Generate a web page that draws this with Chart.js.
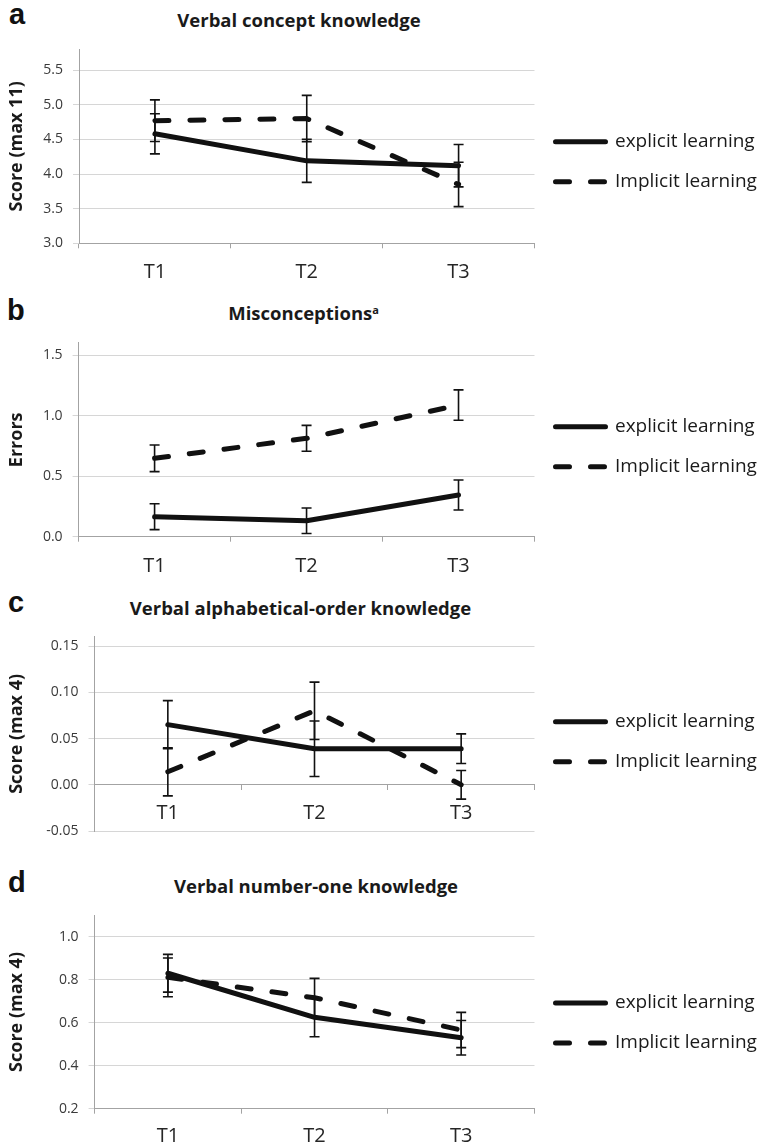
<!DOCTYPE html>
<html>
<head>
<meta charset="utf-8">
<script src="https://cdn.jsdelivr.net/npm/chart.js@4.4.1/dist/chart.umd.min.js"></script>
<style>
  html, body { margin: 0; padding: 0; overflow: hidden; background: #fff; }
  #page { position: relative; width: 763px; height: 1146px; overflow: hidden; }
  canvas { position: absolute; left: 0; }
  .letter { position: absolute; font: bold 29px "Liberation Sans", Arial, sans-serif; line-height: 29px; color: #111; }
  .title { position: absolute; width: 400px; text-align: center; font: bold 18.5px "Open Sans", sans-serif; line-height: 18px; color: #1a1a1a; white-space: nowrap; }
  .title sup { font-size: 11px; line-height: 0; vertical-align: 6px; }
</style>
</head>
<body>
<div id="page">
  <div class="letter" style="left:9px; top:0px">a</div>
  <div class="letter" style="left:7px; top:296px">b</div>
  <div class="letter" style="left:8px; top:588px">c</div>
  <div class="letter" style="left:8px; top:868px">d</div>

  <div class="title" style="left:99px; top:10.5px">Verbal concept knowledge</div>
  <div class="title" style="left:103.6px; top:303.8px">Misconceptions<sup>a</sup></div>
  <div class="title" style="left:100.5px; top:598.8px">Verbal alphabetical-order knowledge</div>
  <div class="title" style="left:116px; top:877px">Verbal number-one knowledge</div>

  <canvas id="chartA"></canvas>
  <canvas id="chartB"></canvas>
  <canvas id="chartC"></canvas>
  <canvas id="chartD"></canvas>
</div>

<script>
// ---- data ----
const timePoints = ['T1', 'T2', 'T3'];
const seriesNames = ['explicit learning', 'Implicit learning'];

// a: Verbal concept knowledge
const conceptExplicit = [4.58, 4.19, 4.12];
const conceptExplicitErr = [0.29, 0.31, 0.305];
const conceptImplicit = [4.77, 4.80, 3.85];
const conceptImplicitErr = [0.30, 0.335, 0.32];
const conceptTicks = [3.0, 3.5, 4.0, 4.5, 5.0, 5.5];

// b: Misconceptions
const miscExplicit = [0.165, 0.132, 0.344];
const miscExplicitErr = [0.107, 0.105, 0.124];
const miscImplicit = [0.647, 0.812, 1.087];
const miscImplicitErr = [0.11, 0.107, 0.125];
const miscTicks = [0.0, 0.5, 1.0, 1.5];

// c: Verbal alphabetical-order knowledge
const alphaExplicit = [0.065, 0.039, 0.039];
const alphaExplicitErr = [0.026, 0.030, 0.016];
const alphaImplicit = [0.014, 0.080, 0.0];
const alphaImplicitErr = [0.026, 0.031, 0.0155];
const alphaTicks = [-0.05, 0.00, 0.05, 0.10, 0.15];

// d: Verbal number-one knowledge
const numberExplicit = [0.830, 0.625, 0.530];
const numberExplicitErr = [0.088, 0.09, 0.08];
const numberImplicit = [0.811, 0.716, 0.566];
const numberImplicitErr = [0.09, 0.09, 0.082];
const numberTicks = [0.2, 0.4, 0.6, 0.8, 1.0];

// ---- look ----
const W = 763;
const PLOT_RIGHT = 534.5;
const AXIS = '#a3a3a3';
const GRID = '#d6d6d6';
const INK = '#111111';
const LEG_FS = 19, LEG_PAD = 21;
const X_AXIS_H = 50;

Chart.defaults.font.family = '"Open Sans", Lato, sans-serif';

// error bars drawn through the y scale
const errorBars = {
  id: 'errorBars',
  afterDatasetsDraw(chart) {
    const ctx = chart.ctx;
    const ys = chart.scales.y;
    chart.data.datasets.forEach((ds, di) => {
      const meta = chart.getDatasetMeta(di);
      ctx.save();
      ctx.strokeStyle = INK;
      ctx.lineWidth = 1.6;
      ctx.setLineDash([]);
      meta.data.forEach((pt, i) => {
        const v = ds.data[i], e = ds.errors[i];
        const top = ys.getPixelForValue(v + e);
        const bot = ys.getPixelForValue(v - e);
        ctx.beginPath();
        ctx.moveTo(pt.x, top); ctx.lineTo(pt.x, bot);
        ctx.moveTo(pt.x - 5, top); ctx.lineTo(pt.x + 5, top);
        ctx.moveTo(pt.x - 5, bot); ctx.lineTo(pt.x + 5, bot);
        ctx.stroke();
      });
      ctx.restore();
    });
  }
};

function lineSet(label, data, errors, dashed) {
  return {
    label: label,
    data: data,
    errors: errors,
    borderColor: INK,
    backgroundColor: INK,
    borderWidth: 5,
    borderDash: dashed ? [14, 21] : [],
    borderCapStyle: 'round',
    borderJoinStyle: 'round',
    pointRadius: 0,
    tension: 0,
    fill: false
  };
}

// p: chart area top/bottom/left, legend first row y, tick label centre y
function buildChart(id, p) {
  const T = Math.floor(p.top) - 10;
  const belowPlot = p.zeroAxis ? 0 : X_AXIS_H;
  const H = Math.ceil(p.bottom + belowPlot - T) + (p.zeroAxis ? 40 : 2);
  const padBottom = T + H - p.bottom - belowPlot;
  const canvas = document.getElementById(id);
  canvas.width = W;
  canvas.height = H;
  canvas.style.top = T + 'px';

  const axisPx = p.zeroAxis ? p.zeroPx : p.bottom;
  const labelPad = p.labelY - axisPx - 5 - 12;
  // empty legend title used as a spacer above the two rows
  const legendSpacer = p.legendY - p.top - LEG_PAD - LEG_FS / 2;

  return new Chart(canvas, {
    type: 'line',
    data: {
      labels: timePoints,
      datasets: [
        lineSet(seriesNames[0], p.explicit, p.explicitErr, false),
        lineSet(seriesNames[1], p.implicit, p.implicitErr, true)
      ]
    },
    options: {
      responsive: false,
      animation: false,
      events: [],
      layout: { padding: { top: p.top - T, bottom: padBottom, left: 0, right: 0 } },
      scales: {
        x: {
          type: 'category',
          position: p.zeroAxis ? { y: 0 } : 'bottom',
          offset: true,
          grid: { offset: true, drawOnChartArea: false, drawTicks: true, tickLength: 5, color: AXIS },
          border: { color: AXIS, width: 1 },
          ticks: { font: { size: 20 }, color: '#262626', padding: labelPad },
          afterFit: s => { s.height = belowPlot; s.paddingLeft = 0; s.paddingRight = 0; }
        },
        y: {
          min: p.min,
          max: p.max,
          afterBuildTicks: s => { s.ticks = p.ticks.map(v => ({ value: v })); },
          ticks: { callback: v => Number(v).toFixed(p.dec), font: { size: 14 }, color: '#3a3a3a', padding: 10 },
          grid: { color: GRID, tickLength: 6, drawTicks: true },
          border: { color: AXIS, width: 1 },
          title: {
            display: true, text: p.yTitle, color: '#1a1a1a',
            font: { size: 18, weight: 'bold' }, padding: { top: 6, bottom: 0 }
          },
          afterFit: s => { s.width = p.left; s.paddingTop = 0; s.paddingBottom = 0; }
        }
      },
      plugins: {
        title: { display: false },
        tooltip: { enabled: false },
        legend: {
          position: 'right',
          align: 'start',
          fullSize: true,
          maxWidth: W - PLOT_RIGHT,
          title: { display: true, text: '', font: { size: 1, lineHeight: 1 }, padding: { top: legendSpacer - 1, bottom: 0 } },
          labels: {
            usePointStyle: true,
            pointStyle: 'line',
            pointStyleWidth: 50,
            padding: LEG_PAD,
            font: { size: LEG_FS },
            color: '#1a1a1a',
            generateLabels: chart => chart.data.datasets.map((ds, i) => ({
              text: ds.label,
              datasetIndex: i,
              hidden: false,
              fillStyle: ds.borderColor,
              strokeStyle: ds.borderColor,
              lineWidth: ds.borderWidth,
              lineDash: ds.borderDash,
              lineCap: ds.borderCapStyle,
              pointStyle: 'line',
              fontColor: '#1a1a1a'
            }))
          }
        }
      }
    },
    plugins: [errorBars]
  });
}

buildChart('chartA', {
  top: 49.3, bottom: 243.3, left: 79, legendY: 141.7, labelY: 272,
  min: 3.0, max: 5.8, ticks: conceptTicks, dec: 1, yTitle: 'Score (max 11)',
  explicit: conceptExplicit, explicitErr: conceptExplicitErr,
  implicit: conceptImplicit, implicitErr: conceptImplicitErr
});

buildChart('chartB', {
  top: 342.9, bottom: 536.7, left: 78.6, legendY: 426.7, labelY: 566,
  min: 0, max: 1.6, ticks: miscTicks, dec: 1, yTitle: 'Errors',
  explicit: miscExplicit, explicitErr: miscExplicitErr,
  implicit: miscImplicit, implicitErr: miscImplicitErr
});

buildChart('chartC', {
  top: 636.8, bottom: 831, left: 94.5, legendY: 721.7, labelY: 813.3,
  zeroAxis: true, zeroPx: 785,
  min: -0.05, max: 0.16, ticks: alphaTicks, dec: 2, yTitle: 'Score (max 4)',
  explicit: alphaExplicit, explicitErr: alphaExplicitErr,
  implicit: alphaImplicit, implicitErr: alphaImplicitErr
});

buildChart('chartD', {
  top: 915.2, bottom: 1108.7, left: 94.6, legendY: 1003, labelY: 1136.7,
  min: 0.2, max: 1.1, ticks: numberTicks, dec: 1, yTitle: 'Score (max 4)',
  explicit: numberExplicit, explicitErr: numberExplicitErr,
  implicit: numberImplicit, implicitErr: numberImplicitErr
});
</script>
</body>
</html>
